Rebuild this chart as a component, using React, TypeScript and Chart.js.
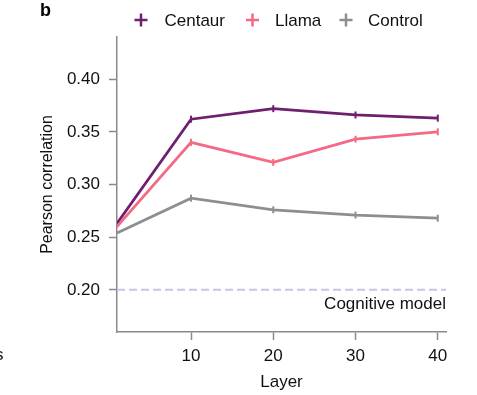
import React, { useEffect, useRef } from "react";
import { Chart, registerables } from "chart.js";

Chart.register(...registerables);

// ---- data ----
const layers = [1, 10, 20, 30, 40];
const centaur = [0.263, 0.362, 0.372, 0.366, 0.363];
const llama = [0.26, 0.34, 0.321, 0.343, 0.35];
const control = [0.254, 0.287, 0.276, 0.271, 0.268];
const cognitiveModel = 0.2;
const xRange = [1, 41];
const yRange = [0.16, 0.44];
const xTicks = [10, 20, 30, 40];
const yTicks = [0.2, 0.25, 0.3, 0.35, 0.4];
const seriesNames = ["Centaur", "Llama", "Control"];
const seriesColors = ["#6e1f6f", "#f46983", "#8e8e8e"];

const FONT = "'Liberation Sans', Arial, Helvetica, sans-serif";
const AXIS = "#8a8a8a";
const TEXT = "#111111";

const extrasPlugin = {
  id: "extras",
  afterDraw(chart: any) {
    const ctx = chart.ctx;
    const { chartArea } = chart;
    const y = chart.scales.y;
    ctx.save();
    // panel letter
    ctx.fillStyle = "#000";
    ctx.font = `bold 18px ${FONT}`;
    ctx.textAlign = "left";
    ctx.textBaseline = "alphabetic";
    ctx.fillText("b", 40, 15.5);
    // clipped fragment from neighbouring panel
    ctx.font = `17px ${FONT}`;
    ctx.fillStyle = TEXT;
    ctx.textAlign = "right";
    ctx.fillText("s", 3.5, 360);
    // legend
    const crossX = [141, 252.5, 346];
    const textX = [164.5, 275, 368];
    const ly = 20;
    seriesNames.forEach((name, i) => {
      ctx.strokeStyle = seriesColors[i];
      ctx.lineWidth = 2.5;
      ctx.beginPath();
      ctx.moveTo(crossX[i] - 6.5, ly);
      ctx.lineTo(crossX[i] + 6.5, ly);
      ctx.moveTo(crossX[i], ly - 6.5);
      ctx.lineTo(crossX[i], ly + 6.5);
      ctx.stroke();
      ctx.fillStyle = TEXT;
      ctx.font = `17px ${FONT}`;
      ctx.textAlign = "left";
      ctx.textBaseline = "middle";
      ctx.fillText(name, textX[i], ly + 1);
    });
    // cognitive model label
    ctx.textAlign = "right";
    ctx.textBaseline = "alphabetic";
    ctx.fillText("Cognitive model", chartArea.right, y.getPixelForValue(cognitiveModel) + 19);
    ctx.restore();
  },
};

export default function App() {
  const ref = useRef<HTMLCanvasElement | null>(null);

  useEffect(() => {
    if (!ref.current) return;
    const series = [centaur, llama, control];
    const datasets: any[] = series.map((vals, i) => ({
      label: seriesNames[i],
      data: layers.map((l, j) => ({ x: l, y: vals[j] })),
      borderColor: seriesColors[i],
      backgroundColor: seriesColors[i],
      borderWidth: 2.75,
      pointStyle: "line",
      rotation: 90,
      pointRadius: layers.map((_, j) => (j === 0 ? 0 : 3.5)),
      pointBorderWidth: 2,
      pointHoverRadius: 0,
      tension: 0,
      order: 3 - i,
    }));
    datasets.push({
      label: "Cognitive model",
      data: xRange.map((x) => ({ x, y: cognitiveModel })),
      borderColor: "#c6c6e6",
      borderWidth: 2,
      borderDash: [8, 4],
      pointRadius: 0,
      order: 10,
    });

    const chart = new Chart(ref.current, {
      type: "line",
      data: { datasets },
      plugins: [extrasPlugin],
      options: {
        responsive: false,
        animation: false,
        events: [],
        layout: { padding: { top: 37, right: 31, left: 0, bottom: 0 } },
        plugins: { legend: { display: false }, tooltip: { enabled: false } },
        scales: {
          x: {
            type: "linear",
            min: xRange[0],
            max: xRange[1],
            afterBuildTicks: (s: any) => {
              s.ticks = xTicks.map((v) => ({ value: v }));
            },
            afterFit: (s: any) => {
              s.height = 63;
            },
            grid: {
              drawOnChartArea: false,
              drawTicks: true,
              tickLength: 8,
              tickWidth: 1.5,
              tickColor: AXIS,
            },
            border: { display: true, color: AXIS, width: 1.5 },
            ticks: {
              color: TEXT,
              font: { family: FONT, size: 17 },
              padding: 6,
              maxRotation: 0,
              callback: (v: any) => String(v),
            },
            title: {
              display: true,
              text: "Layer",
              color: TEXT,
              font: { family: FONT, size: 17 },
              padding: { top: 0, bottom: 2.5 },
            },
          },
          y: {
            type: "linear",
            min: yRange[0],
            max: yRange[1],
            afterBuildTicks: (s: any) => {
              s.ticks = yTicks.map((v) => ({ value: v }));
            },
            afterFit: (s: any) => {
              s.width = 117;
            },
            grid: {
              drawOnChartArea: false,
              drawTicks: true,
              tickLength: 8,
              tickWidth: 1.5,
              tickColor: AXIS,
            },
            border: { display: true, color: AXIS, width: 1.5 },
            ticks: {
              color: TEXT,
              font: { family: FONT, size: 17 },
              padding: 9,
              callback: (v: any) => Number(v).toFixed(2),
            },
            title: {
              display: true,
              text: "Pearson correlation",
              color: TEXT,
              font: { family: FONT, size: 16 },
              padding: { top: 38, bottom: 0 },
            },
          },
        },
      },
    } as any);
    return () => chart.destroy();
  }, []);

  return (
    <div style={{ position: "fixed", left: 0, top: 0, width: 477, height: 395, background: "#fff" }}>
      <canvas ref={ref} width={477} height={395} style={{ display: "block" }} />
    </div>
  );
}
